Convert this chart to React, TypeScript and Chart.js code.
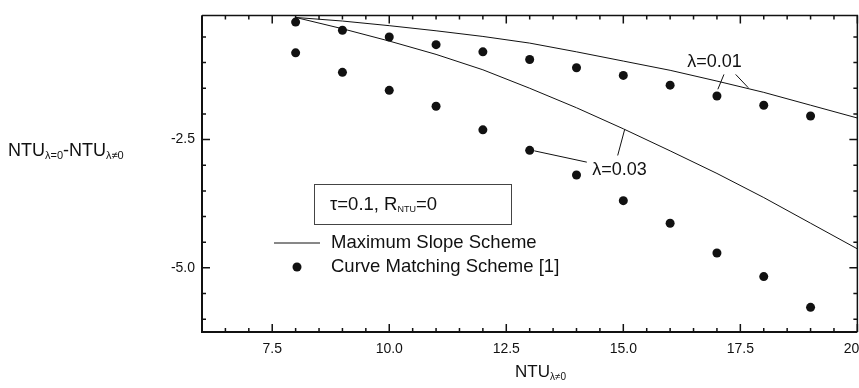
import React, { useEffect, useRef } from "react";
import { Chart, registerables } from "chart.js";

Chart.register(...registerables);

// ---- data ----
const lineNtu = [8, 9, 10, 11, 12, 13, 14, 15, 16, 17, 18, 19, 20];
const slopeLambda001 = [-0.12, -0.19, -0.28, -0.38, -0.49, -0.62, -0.79, -0.97, -1.15, -1.36, -1.58, -1.83, -2.08];
const slopeLambda003 = [-0.12, -0.34, -0.58, -0.84, -1.14, -1.5, -1.88, -2.29, -2.72, -3.16, -3.63, -4.13, -4.63];

const dotNtu = [8, 9, 10, 11, 12, 13, 14, 15, 16, 17, 18, 19];
const matchLambda001 = [-0.21, -0.37, -0.5, -0.65, -0.79, -0.94, -1.1, -1.25, -1.44, -1.65, -1.83, -2.04];
const matchLambda003 = [-0.81, -1.19, -1.54, -1.85, -2.31, -2.71, -3.19, -3.69, -4.13, -4.71, -5.17, -5.77];

const xLabeledTicks = [7.5, 10, 12.5, 15, 17.5, 20];
const yLabeledTicks = [-2.5, -5];

const legendLine = "Maximum Slope Scheme";
const legendDots = "Curve Matching Scheme [1]";
const paramText = ["τ=0.1, R", "NTU", "=0"];
const annoLabels = ["λ=0.01", "λ=0.03"];

// ---- axis ranges ----
const X_MIN = 6, X_MAX = 20, X_STEP = 0.5;
const Y_MIN = -6.25, Y_MAX = -0.08, Y_STEP = 0.5;

const FONT = "'Liberation Sans', Arial, Helvetica, sans-serif";
const INK = "#111";

function stepsBetween(lo: number, hi: number, step: number) {
  const out: number[] = [];
  const start = Math.ceil(lo / step - 1e-9);
  const end = Math.floor(hi / step + 1e-9);
  for (let i = start; i <= end; i++) out.push(+(i * step).toFixed(4));
  return out;
}
const isIn = (list: number[], v: number) => list.some((t) => Math.abs(t - v) < 1e-6);

type Part = { text: string; size: number; dy?: number };
function drawRich(ctx: CanvasRenderingContext2D, parts: Part[], x: number, y: number) {
  let cx = x;
  ctx.textBaseline = "middle";
  ctx.textAlign = "left";
  for (const p of parts) {
    ctx.font = `${p.size}px ${FONT}`;
    ctx.fillText(p.text, cx, y + (p.dy || 0));
    cx += ctx.measureText(p.text).width;
  }
}

const overlayPlugin = {
  id: "overlay",
  afterDatasetsDraw(chart: any) {
    const { ctx, chartArea: a, scales } = chart;
    const xs = scales.x, ys = scales.y;
    ctx.save();
    ctx.strokeStyle = INK;
    ctx.fillStyle = INK;

    // frame
    ctx.lineWidth = 2;
    ctx.beginPath();
    ctx.moveTo(a.left, a.top);
    ctx.lineTo(a.left, a.bottom);
    ctx.lineTo(a.right, a.bottom);
    ctx.stroke();
    ctx.lineWidth = 1.5;
    ctx.beginPath();
    ctx.moveTo(a.left, a.top);
    ctx.lineTo(a.right, a.top);
    ctx.lineTo(a.right, a.bottom);
    ctx.stroke();

    // inward ticks
    ctx.lineWidth = 1.5;
    for (const t of xs.ticks) {
      const px = xs.getPixelForValue(t.value);
      const len = Math.abs((t.value / 2.5) - Math.round(t.value / 2.5)) < 1e-6 ? 8 : 4;
      ctx.beginPath();
      ctx.moveTo(px, a.bottom);
      ctx.lineTo(px, a.bottom - len);
      ctx.moveTo(px, a.top);
      ctx.lineTo(px, a.top + len);
      ctx.stroke();
    }
    for (const t of ys.ticks) {
      const py = ys.getPixelForValue(t.value);
      const len = isIn(yLabeledTicks, t.value) ? 8 : 4;
      ctx.beginPath();
      ctx.moveTo(a.left, py);
      ctx.lineTo(a.left + len, py);
      ctx.moveTo(a.right, py);
      ctx.lineTo(a.right - len, py);
      ctx.stroke();
    }

    // annotations
    const annos = [
      { label: annoLabels[0], x: 16.95, y: -0.98, leaders: [[17.15, -1.23, 17.02, -1.52], [17.4, -1.23, 17.67, -1.49]] },
      { label: annoLabels[1], x: 14.92, y: -3.1, leaders: [[13.1, -2.72, 14.22, -2.94], [14.88, -2.81, 15.03, -2.3]] },
    ];
    ctx.lineWidth = 1;
    for (const an of annos) {
      ctx.font = `18px ${FONT}`;
      ctx.textAlign = "center";
      ctx.textBaseline = "middle";
      ctx.fillText(an.label, xs.getPixelForValue(an.x), ys.getPixelForValue(an.y));
      for (const l of an.leaders) {
        ctx.beginPath();
        ctx.moveTo(xs.getPixelForValue(l[0]), ys.getPixelForValue(l[1]));
        ctx.lineTo(xs.getPixelForValue(l[2]), ys.getPixelForValue(l[3]));
        ctx.stroke();
      }
    }

    // legend box
    ctx.strokeStyle = "#444";
    ctx.lineWidth = 1;
    ctx.strokeRect(314.5, 184.5, 197, 40);
    ctx.fillStyle = INK;
    drawRich(ctx, [
      { text: paramText[0], size: 18.5 },
      { text: paramText[1], size: 9, dy: 5 },
      { text: paramText[2], size: 18.5 },
    ], 330, 205);

    // legend entries
    ctx.strokeStyle = INK;
    ctx.lineWidth = 1;
    ctx.beginPath();
    ctx.moveTo(274, 243);
    ctx.lineTo(320, 243);
    ctx.stroke();
    drawRich(ctx, [{ text: legendLine, size: 18.5 }], 331, 243);
    ctx.beginPath();
    ctx.arc(297, 267, 4.5, 0, Math.PI * 2);
    ctx.fill();
    drawRich(ctx, [{ text: legendDots, size: 18.5 }], 331, 267);

    // axis titles
    drawRich(ctx, [
      { text: "NTU", size: 18 },
      { text: "λ=0", size: 11, dy: 5 },
      { text: "-NTU", size: 18 },
      { text: "λ≠0", size: 11, dy: 5 },
    ], 8, 151);
    drawRich(ctx, [
      { text: "NTU", size: 17 },
      { text: "λ≠0", size: 10, dy: 5 },
    ], 515, 372);

    ctx.restore();
  },
};

export default function App() {
  const ref = useRef<HTMLCanvasElement | null>(null);
  useEffect(() => {
    if (!ref.current) return;
    const toPts = (xs: number[], ys: number[]) => xs.map((x, i) => ({ x, y: ys[i] }));
    const chart = new Chart(ref.current, {
      type: "scatter",
      data: {
        datasets: [
          { label: "Maximum Slope Scheme λ=0.01", data: toPts(lineNtu, slopeLambda001), showLine: true, borderColor: INK, borderWidth: 1, pointRadius: 0, tension: 0 },
          { label: "Maximum Slope Scheme λ=0.03", data: toPts(lineNtu, slopeLambda003), showLine: true, borderColor: INK, borderWidth: 1, pointRadius: 0, tension: 0 },
          { label: "Curve Matching λ=0.01", data: toPts(dotNtu, matchLambda001), showLine: false, pointRadius: 4.5, pointBackgroundColor: INK, pointBorderWidth: 0, borderColor: INK },
          { label: "Curve Matching λ=0.03", data: toPts(dotNtu, matchLambda003), showLine: false, pointRadius: 4.5, pointBackgroundColor: INK, pointBorderWidth: 0, borderColor: INK },
        ],
      },
      options: {
        animation: false,
        responsive: false,
        devicePixelRatio: 1,
        layout: { padding: { left: 8, right: 22, top: 11, bottom: 0 } },
        plugins: { legend: { display: false }, tooltip: { enabled: false }, title: { display: false } },
        scales: {
          x: {
            type: "linear",
            min: X_MIN,
            max: X_MAX,
            afterBuildTicks: (s: any) => { s.ticks = stepsBetween(X_MIN, X_MAX, X_STEP).map((v) => ({ value: v })); },
            afterFit: (s: any) => { s.height = 56; },
            grid: { display: false, drawTicks: false },
            border: { display: false },
            ticks: {
              autoSkip: false, maxRotation: 0, minRotation: 0, padding: 9, color: INK,
              font: { family: FONT, size: 14 },
              callback: (v: any) => (isIn(xLabeledTicks, Number(v)) ? Number(v).toFixed(1) : ""),
            },
          },
          y: {
            type: "linear",
            min: Y_MIN,
            max: Y_MAX,
            afterBuildTicks: (s: any) => { s.ticks = stepsBetween(Y_MIN, Y_MAX, Y_STEP).map((v) => ({ value: v })); },
            afterFit: (s: any) => { s.width = 194; },
            grid: { display: false, drawTicks: false },
            border: { display: false },
            ticks: {
              autoSkip: false, padding: 7, color: INK,
              font: { family: FONT, size: 14 },
              callback: (v: any) => (isIn(yLabeledTicks, Number(v)) ? Number(v).toFixed(1) : ""),
            },
          },
        },
      },
      plugins: [overlayPlugin],
    } as any);
    return () => chart.destroy();
  }, []);
  return (
    <div style={{ position: "fixed", left: 0, top: 0, width: 859, height: 388, overflow: "hidden", background: "#fff" }}>
      <canvas ref={ref} width={880} height={388} style={{ width: 880, height: 388, display: "block" }} />
    </div>
  );
}
